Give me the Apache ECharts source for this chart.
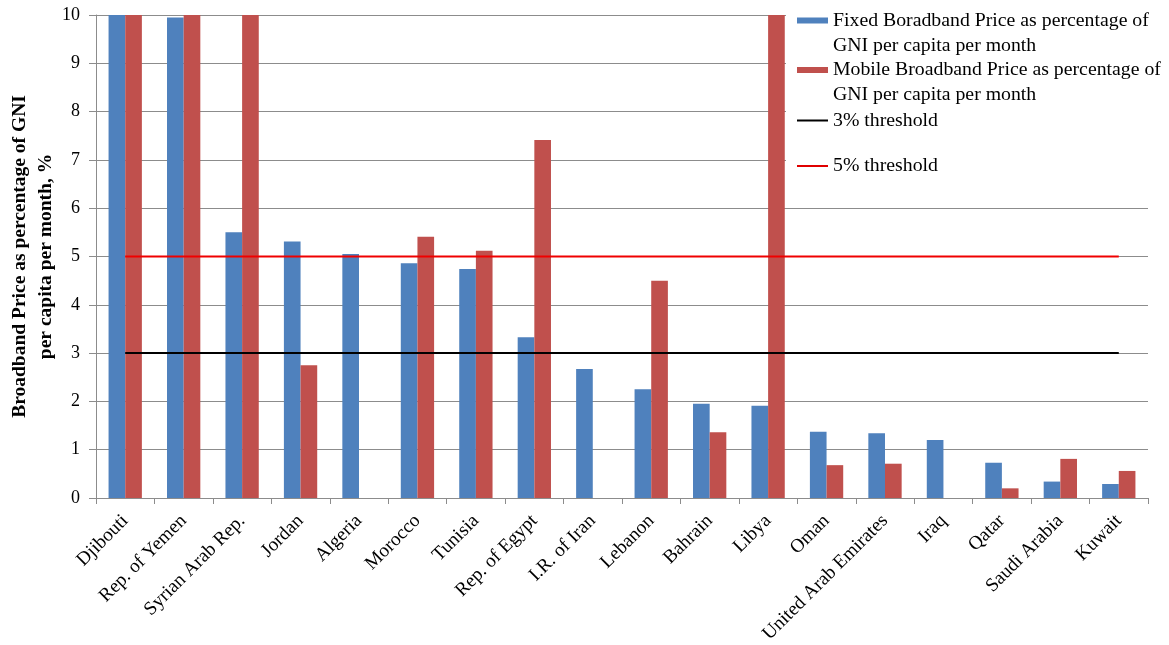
<!DOCTYPE html>
<html>
<head>
<meta charset="utf-8">
<script src="https://cdn.jsdelivr.net/npm/echarts@6/dist/echarts.min.js"></script>
<style>
  html, body { margin: 0; padding: 0; background: #fff; }
  #chart { width: 1169px; height: 645px; }
</style>
</head>
<body>
<div id="chart"></div>
<script>
const categories = ['Djibouti', 'Rep. of Yemen', 'Syrian Arab Rep.', 'Jordan', 'Algeria', 'Morocco', 'Tunisia', 'Rep. of Egypt', 'I.R. of Iran', 'Lebanon', 'Bahrain', 'Libya', 'Oman', 'United Arab Emirates', 'Iraq', 'Qatar', 'Saudi Arabia', 'Kuwait'];
const fixedPrice = [10, 9.95, 5.5, 5.31, 5.05, 4.86, 4.74, 3.33, 2.67, 2.25, 1.95, 1.91, 1.37, 1.34, 1.2, 0.73, 0.34, 0.29];
const mobilePrice = [10, 10, 10, 2.75, null, 5.41, 5.12, 7.41, null, 4.5, 1.36, 10, 0.68, 0.71, null, 0.2, 0.81, 0.56];
const threshold3 = [3, 3, 3, 3, 3, 3, 3, 3, 3, 3, 3, 3, 3, 3, 3, 3, 3, 3];
const threshold5 = [5, 5, 5, 5, 5, 5, 5, 5, 5, 5, 5, 5, 5, 5, 5, 5, 5, 5];
const yTicks = [0, 1, 2, 3, 4, 5, 6, 7, 8, 9, 10];

const nameFixed = 'Fixed Boradband Price as percentage of\nGNI per capita per month';
const nameMobile = 'Mobile Broadband Price as percentage of\nGNI per capita per month';
const name3 = '3% threshold';
const name5 = '5% threshold';

const SERIF = '"Liberation Serif", "Times New Roman", serif';
const BLUE = '#4F81BD';
const RED = '#C0504D';
const GRID = '#8c8c8c';

const chart = echarts.init(document.getElementById('chart'), null, { renderer: 'canvas' });

function legendFor(name, top, twoLine, color, iconH) {
  return {
    show: true,
    orient: 'vertical',
    left: 797,
    top: top,
    padding: 0,
    itemGap: 0,
    itemWidth: 31,
    itemHeight: iconH,
    selectedMode: false,
    backgroundColor: 'transparent',
    data: [{ name: name, icon: 'rect', itemStyle: { color: color } }],
    formatter: function (n) { return twoLine ? '\n' + n : n; },
    textStyle: {
      fontFamily: SERIF,
      fontSize: 19.8,
      color: '#000',
      lineHeight: 25
    }
  };
}

chart.setOption({
  animation: false,
  backgroundColor: '#fff',
  grid: { left: 96, right: 21, top: 15, bottom: 147, containLabel: false, outerBoundsMode: 'none' },
  graphic: [{
    type: 'rect',
    z: 3,
    shape: { x: 786, y: 0, width: 383, height: 190 },
    style: { fill: '#fff' },
    silent: true
  }],
  legend: [
    legendFor(nameFixed, 20.5 - 37.5, true, BLUE, 6),
    legendFor(nameMobile, 70 - 37.5, true, RED, 6),
    legendFor(name3, 120.5 - 12.5, false, '#000', 2),
    legendFor(name5, 166 - 12.5, false, '#e00000', 2)
  ],
  xAxis: {
    type: 'category',
    data: categories,
    boundaryGap: true,
    axisLine: { show: true, lineStyle: { color: GRID, width: 1 } },
    axisTick: { show: true, alignWithLabel: false, length: 6, lineStyle: { color: GRID } },
    axisLabel: {
      interval: 0,
      rotate: 45,
      margin: 20,
      fontFamily: SERIF,
      fontSize: 19.2,
      color: '#000'
    },
    splitLine: { show: false }
  },
  yAxis: {
    type: 'value',
    min: 0,
    max: 10,
    interval: 1,
    name: 'Broadband Price as percentage of GNI\nper capita per month, %',
    nameLocation: 'middle',
    nameRotate: 90,
    nameGap: 37,
    nameMoveOverlap: false,
    nameTextStyle: {
      fontFamily: SERIF,
      fontSize: 19.5,
      fontWeight: 'bold',
      color: '#000',
      lineHeight: 26,
      align: 'center'
    },
    axisLine: { show: true, lineStyle: { color: GRID, width: 1 } },
    axisTick: { show: true, inside: false, length: 7, lineStyle: { color: GRID } },
    axisLabel: {
      margin: 16,
      fontFamily: SERIF,
      fontSize: 18,
      color: '#000',
      formatter: function (v) { return yTicks.indexOf(v) >= 0 ? String(v) : ''; }
    },
    splitLine: { show: true, lineStyle: { color: GRID, width: 1 } }
  },
  series: [
    {
      name: nameFixed,
      type: 'bar',
      data: fixedPrice,
      barGap: '0%',
      barCategoryGap: '43%',
      itemStyle: { color: BLUE },
      z: 2
    },
    {
      name: nameMobile,
      type: 'bar',
      data: mobilePrice,
      barGap: '0%',
      barCategoryGap: '43%',
      itemStyle: { color: RED },
      z: 2
    },
    {
      name: name3,
      type: 'line',
      data: threshold3,
      symbol: 'none',
      showSymbol: false,
      itemStyle: { color: '#000' },
      lineStyle: { color: '#000', width: 2 },
      z: 3
    },
    {
      name: name5,
      type: 'line',
      data: threshold5,
      symbol: 'none',
      showSymbol: false,
      itemStyle: { color: '#e00000' },
      lineStyle: { color: '#f00000', width: 2 },
      z: 3
    }
  ]
});
</script>
</body>
</html>
